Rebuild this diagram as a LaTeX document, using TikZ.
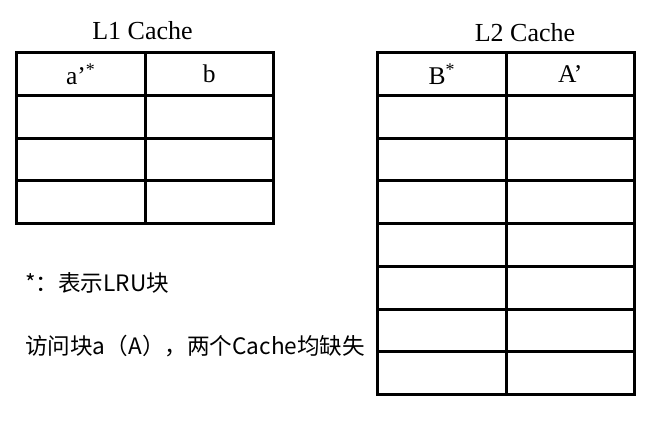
\documentclass[tikz,border=0pt]{standalone}
\usepackage{fontspec}
\setmainfont{Liberation Serif}
\newfontfamily\cjkfont{Noto Sans CJK SC}
\usetikzlibrary{positioning}

\begin{document}
\begin{tikzpicture}[
  x=1pt,
  y=-1pt,
  cell/.style={draw=black, line width=3pt, minimum width=128.5pt, minimum height=42.75pt,
    inner sep=0pt, outer sep=0pt, font=\fontsize{25.5}{30}\selectfont},
  title/.style={anchor=base, inner sep=0pt, font=\fontsize{26}{30}\selectfont},
  note/.style={anchor=base west, inner sep=0pt, font=\cjkfont\fontsize{22.6}{27}\selectfont}
]
\useasboundingbox (0,0) rectangle (654,425);

\node[title] (l1title) at (142.5,40) {L1 Cache};
\node[title] (l2title) at (525,42) {L2 Cache};

% L1
\node[cell] (l1a1) at (80.75,73.9) {a’\textsuperscript{*}};
\node[cell, right=0pt of l1a1] (l1b1) {b};
\foreach \r [count=\p from 1] in {2,...,4} {
  \node[cell, below=0pt of l1a\p] (l1a\r) {};
  \node[cell, right=0pt of l1a\r] (l1b\r) {};
}

% L2
\node[cell] (l2a1) at (441.75,73.9) {B\textsuperscript{*}};
\node[cell, right=0pt of l2a1] (l2b1) {A’};
\foreach \r [count=\p from 1] in {2,...,8} {
  \node[cell, below=0pt of l2a\p] (l2a\r) {};
  \node[cell, right=0pt of l2a\r] (l2b\r) {};
}

\node[note] (lru) at (25,291) {*：表示LRU块};
\node[note] (miss) at (25,354) {访问块a（A），两个Cache均缺失};
\end{tikzpicture}
\end{document}
